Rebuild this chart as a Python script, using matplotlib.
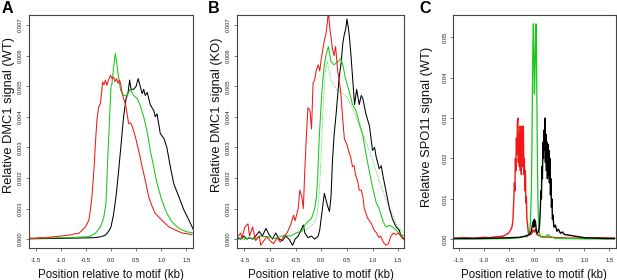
import matplotlib
matplotlib.use("Agg")
import matplotlib.pyplot as plt

plt.rcParams['font.family'] = ['Liberation Sans', 'DejaVu Sans']
plt.rcParams['axes.unicode_minus'] = False

RED = '#f01818'
GREEN = '#18c818'
BLACK = '#000000'

# ---------------- Panel A : DMC1 (WT) ----------------
a_red_x = [-1.62, -1.5, -1.4, -1.3, -1.2, -1.1, -1.0, -0.9, -0.8, -0.7, -0.64, -0.58, -0.51, -0.44, -0.41,
           -0.38, -0.34, -0.31, -0.28, -0.245, -0.21, -0.19, -0.165, -0.14, -0.11, -0.08, -0.05, -0.01, 0.02,
           0.05, 0.08, 0.11, 0.14, 0.17, 0.19, 0.22, 0.25, 0.29, 0.32, 0.35, 0.39, 0.42, 0.485, 0.55, 0.62,
           0.68, 0.75, 0.82, 0.88, 1.01, 1.15, 1.28, 1.41, 1.61]
a_red_y = [0.00002, 0.00003, 0.00005, 0.00004, 0.00007, 0.00008, 0.0001, 0.00012, 0.00014, 0.00018, 0.00019,
           0.00028, 0.0004, 0.00062, 0.00095, 0.00138, 0.00225, 0.00313, 0.00389, 0.00432, 0.00443, 0.00476,
           0.00514, 0.00505, 0.0052, 0.00503, 0.0052, 0.00536, 0.00525, 0.0053, 0.00515, 0.00525, 0.0051,
           0.0052, 0.0051, 0.00476, 0.0046, 0.0044, 0.0041, 0.00378, 0.0038, 0.0037, 0.00334, 0.0029, 0.00236,
           0.00193, 0.00138, 0.00106, 0.00084, 0.00062, 0.0004, 0.0003, 0.0002, 0.00015]

a_green_x = [-1.62, -1.2, -0.8, -0.6, -0.44, -0.31, -0.21, -0.145, -0.1, -0.066, -0.03, 0.0, 0.02, 0.05, 0.087,
             0.11, 0.14, 0.19, 0.25, 0.32, 0.385, 0.45, 0.52, 0.58, 0.65, 0.72, 0.78, 0.85, 0.915, 1.01, 1.11,
             1.21, 1.35, 1.48, 1.64]
a_green_y = [0.00003, 0.00004, 0.00005, 0.00007, 0.00008, 0.00019, 0.0004, 0.0007, 0.00117, 0.00258, 0.0039,
             0.005, 0.00509, 0.0056, 0.00607, 0.0058, 0.00542, 0.00487, 0.0047, 0.0047, 0.0049, 0.0047, 0.0046,
             0.00438, 0.004, 0.0035, 0.0029, 0.00236, 0.00182, 0.00127, 0.00084, 0.00057, 0.00035, 0.00025,
             0.0002]

a_black_x = [-1.62, -1.2, -0.8, -0.5, -0.31, -0.2, -0.11, -0.05, 0.0, 0.05, 0.1, 0.15, 0.2, 0.25, 0.3, 0.34,
             0.37, 0.4, 0.45, 0.5, 0.54, 0.58, 0.62, 0.65, 0.68, 0.72, 0.75, 0.78, 0.85, 0.88, 0.915, 0.98, 1.05,
             1.11, 1.18, 1.25, 1.35, 1.45, 1.55, 1.64]
a_black_y = [0.00001, 0.00002, 0.00003, 0.00004, 0.00005, 0.00008, 0.00013, 0.00025, 0.0004, 0.0008, 0.0014,
             0.0022, 0.0031, 0.004, 0.0046, 0.0048, 0.0052, 0.0049, 0.0049, 0.005, 0.00525, 0.005, 0.00476,
             0.0049, 0.0047, 0.0048, 0.0046, 0.0044, 0.0042, 0.004, 0.0041, 0.00345, 0.0033, 0.003, 0.00236,
             0.0018, 0.00138, 0.00095, 0.00062, 0.0003]

# ---------------- Panel B : DMC1 (KO) ----------------
b_red_x = [-1.62, -1.57, -1.55, -1.49, -1.43, -1.40, -1.34, -1.28, -1.21, -1.18, -1.12, -1.06, -1.0, -0.93,
           -0.86, -0.80, -0.73, -0.67, -0.60, -0.54, -0.51, -0.45, -0.42, -0.38, -0.35, -0.32, -0.29, -0.26,
           -0.22, -0.19, -0.16, -0.13, -0.10, -0.06, -0.03, 0.0, 0.03, 0.06, 0.09, 0.12, 0.14, 0.16, 0.19,
           0.22, 0.25, 0.28, 0.32, 0.35, 0.38, 0.42, 0.45, 0.47, 0.50, 0.53, 0.57, 0.61, 0.64, 0.67, 0.71,
           0.74, 0.78, 0.81, 0.84, 0.87, 0.90, 0.94, 0.98, 1.03, 1.08, 1.12, 1.16, 1.21, 1.26, 1.31, 1.36,
           1.41, 1.46, 1.50, 1.55, 1.60, 1.62]
b_red_y = [0.0001, 0.0002, 0.00002, 0.0004, 0.0005, 0.0001, 0.0004, -0.00005, 0.0001, -0.0002, -0.00005,
           0.00008, -0.00005, -0.00015, 0.00005, -0.0001, 0.0001, 0.00019, 0.00046, 0.00078, 0.0006, 0.001,
           0.0016, 0.0014, 0.001, 0.0023, 0.0034, 0.0043, 0.0042, 0.0036, 0.0051, 0.0052, 0.0055, 0.0057,
           0.0055, 0.0059, 0.0062, 0.0065, 0.0067, 0.0071, 0.0075, 0.0070, 0.0066, 0.0062, 0.006, 0.0063,
           0.0055, 0.0052, 0.0048, 0.0039, 0.0033, 0.0032, 0.0031, 0.0029, 0.0027, 0.00237, 0.0024, 0.0021,
           0.0019, 0.0016, 0.0016, 0.0014, 0.001, 0.00085, 0.0007, 0.0006, 0.0005, 0.0003, 0.0002, 0.00005,
           0.0001, -0.0001, -0.0002, -0.00015, 0.0001, 0.0002, 0.00015, 0.0002, 0.0001, 0.0, -0.00003]

b_black_x = [-1.62, -1.57, -1.51, -1.45, -1.40, -1.34, -1.28, -1.21, -1.15, -1.08, -1.02, -0.95, -0.89, -0.82,
             -0.76, -0.69, -0.63, -0.56, -0.51, -0.45, -0.38, -0.35, -0.32, -0.26, -0.19, -0.13, -0.06, -0.03,
             0.0, 0.03, 0.06, 0.09, 0.12, 0.16, 0.19, 0.22, 0.25, 0.29, 0.32, 0.35, 0.39, 0.42, 0.45, 0.48,
             0.50, 0.53, 0.55, 0.58, 0.61, 0.65, 0.69, 0.74, 0.78, 0.81, 0.87, 0.94, 1.0, 1.04, 1.07, 1.13,
             1.17, 1.2, 1.26, 1.33, 1.39, 1.46, 1.52, 1.56, 1.62]
b_black_y = [0.00002, 0.0, 0.0001, 0.0, 0.00005, 0.0, 0.0001, 0.00025, 0.0001, 0.00035, 0.00015, 0.0, 0.0002,
             0.0, -0.00005, 0.0001, 0.0, -0.0002, 0.0, 0.0001, 0.00035, 0.00046, 0.0002, 0.00005, 0.0001, 0.0,
             0.0001, 0.0003, 0.0007, 0.0011, 0.0015, 0.0013, 0.0011, 0.0009, 0.0014, 0.0026, 0.0034, 0.0041,
             0.0047, 0.0053, 0.0058, 0.0064, 0.0067, 0.0069, 0.0072, 0.0069, 0.0066, 0.006, 0.0053, 0.0044,
             0.0049, 0.0044, 0.0047, 0.0046, 0.0041, 0.0037, 0.0029, 0.003, 0.0027, 0.0023, 0.0024, 0.0021,
             0.0016, 0.001, 0.00065, 0.0004, 0.0003, 0.0001, 0.0]

b_green_x = [-1.62, -1.5, -1.4, -1.3, -1.2, -1.06, -0.9, -0.73, -0.6, -0.47, -0.38, -0.32, -0.26, -0.19, -0.13,
             -0.10, -0.07, -0.04, 0.0, 0.03, 0.06, 0.09, 0.14, 0.19, 0.25, 0.32, 0.38, 0.42, 0.48, 0.55, 0.61,
             0.68, 0.74, 0.81, 0.87, 0.94, 1.0, 1.07, 1.13, 1.2, 1.26, 1.33, 1.39, 1.46, 1.52, 1.62]
b_green_y = [0.00005, 0.0, 0.00005, 0.0, 0.0001, 0.00008, 0.00002, 0.00012, 0.0001, 0.00022, 0.00025, 0.00046,
             0.00057, 0.00068, 0.001, 0.0013, 0.002, 0.0033, 0.0045, 0.0052, 0.0057, 0.006, 0.0063, 0.0058,
             0.0057, 0.0058, 0.0059, 0.0057, 0.0052, 0.0048, 0.0044, 0.0042, 0.0038, 0.0034, 0.0028, 0.0022,
             0.0017, 0.0012, 0.001, 0.0006, 0.0004, 0.00045, 0.0004, 0.0003, 0.0002, 0.0001]

b_green2_x = [-0.3, -0.15, -0.08, -0.04, 0.0, 0.03, 0.08, 0.12, 0.19, 0.29, 0.38, 0.48, 0.61, 0.74, 0.87, 1.0,
              1.13, 1.26, 1.39, 1.49, 1.62]
b_green2_y = [0.0003, 0.0005, 0.0008, 0.0015, 0.0028, 0.0041, 0.0055, 0.0058, 0.0052, 0.0049, 0.0048, 0.0047,
              0.0043, 0.0037, 0.0032, 0.0026, 0.0019, 0.0013, 0.0008, 0.0004, 0.0002]

# ---------------- Panel C : SPO11 (WT) ----------------
c_red_x = [-1.6, -1.4, -1.2, -1.0, -0.9, -0.8, -0.7, -0.62, -0.56, -0.52, -0.48, -0.45, -0.43, -0.42, -0.41,
           -0.40, -0.39, -0.38, -0.37, -0.36, -0.35, -0.34, -0.33, -0.32, -0.31, -0.30, -0.29, -0.28, -0.27,
           -0.26, -0.25, -0.24, -0.23, -0.22, -0.21, -0.20, -0.19, -0.18, -0.17, -0.16, -0.15, -0.14, -0.12,
           -0.10, -0.08, -0.05, -0.02, 0.0, 0.02, 0.05, 0.08, 0.13, 0.2, 0.33, 0.5, 0.7, 1.0, 1.3, 1.6]
c_red_y = [0.0003, 0.0004, 0.0003, 0.0005, 0.0004, 0.0006, 0.0007, 0.0008, 0.0012, 0.0015, 0.0022, 0.003,
           0.0045, 0.0072, 0.010, 0.014, 0.012, 0.020, 0.017, 0.025, 0.021, 0.029, 0.030, 0.019, 0.026, 0.018,
           0.028, 0.017, 0.024, 0.016, 0.028, 0.018, 0.027, 0.028, 0.016, 0.020, 0.012, 0.017, 0.009, 0.0105,
           0.005, 0.004, 0.0015, 0.0012, 0.0011, 0.0015, 0.0023, 0.0018, 0.0025, 0.0012, 0.001, 0.0007,
           0.0006, 0.0005, 0.0004, 0.0003, 0.0003, 0.0004, 0.0003]

c_green_x = [-1.6, -1.0, -0.5, -0.3, -0.2, -0.15, -0.12, -0.10, -0.08, -0.06, -0.05, -0.04, -0.03, -0.02, -0.01,
             0.0, 0.01, 0.02, 0.03, 0.04, 0.05, 0.06, 0.07, 0.08, 0.10, 0.13, 0.2, 0.27, 0.3, 0.4, 0.6, 1.0, 1.6]
c_green_y = [0.0001, 0.0001, 0.0002, 0.0004, 0.0008, 0.0006, 0.001, 0.0015, 0.004, 0.012, 0.022, 0.036, 0.048,
             0.0533, 0.046, 0.036, 0.040, 0.048, 0.0533, 0.047, 0.034, 0.020, 0.010, 0.005, 0.0015, 0.0006,
             0.0004, 0.0012, 0.0008, 0.0003, 0.0002, 0.0001, 0.0001]

c_black_x = [-1.6, -1.2, -0.8, -0.5, -0.3, -0.2, -0.1, -0.06, -0.04, -0.02, -0.01, 0.0, 0.01, 0.02, 0.04, 0.06,
             0.08, 0.10, 0.11, 0.12, 0.13, 0.14, 0.15, 0.16, 0.17, 0.18, 0.19, 0.20, 0.21, 0.22, 0.23, 0.24,
             0.25, 0.26, 0.27, 0.28, 0.29, 0.30, 0.31, 0.32, 0.33, 0.34, 0.35, 0.36, 0.37, 0.39, 0.42, 0.45,
             0.48, 0.52, 0.56, 0.6, 0.7, 0.8, 0.9, 1.0, 1.2, 1.4, 1.6]
c_black_y = [0.0002, 0.0002, 0.0003, 0.0004, 0.0005, 0.0007, 0.0012, 0.002, 0.0035, 0.0045, 0.003, 0.005,
             0.0035, 0.0045, 0.002, 0.0015, 0.002, 0.003, 0.005, 0.008, 0.012, 0.010, 0.018, 0.015, 0.024,
             0.020, 0.027, 0.022, 0.030, 0.019, 0.026, 0.017, 0.024, 0.015, 0.0235, 0.016, 0.022, 0.014, 0.020,
             0.011, 0.015, 0.008, 0.010, 0.005, 0.006, 0.003, 0.0035, 0.002, 0.0025, 0.0015, 0.0018, 0.0012,
             0.001, 0.0008, 0.0006, 0.0004, 0.0003, 0.0002, 0.0002]

x_ticks = [-1.5, -1.0, -0.5, 0.0, 0.5, 1.0, 1.5]
x_tick_labels = ['-1.5', '-1.0', '-0.5', '0.0', '0.5', '1.0', '1.5']
dmc_ticks = [0.000, 0.001, 0.002, 0.003, 0.004, 0.005, 0.006, 0.007]
dmc_tick_labels = ['0.000', '0.001', '0.002', '0.003', '0.004', '0.005', '0.006', '0.007']
spo_ticks = [0.00, 0.01, 0.02, 0.03, 0.04, 0.05]
spo_tick_labels = ['0.00', '0.01', '0.02', '0.03', '0.04', '0.05']

xlabel = 'Position relative to motif (kb)'
ylabels = ['Relative DMC1 signal (WT)', 'Relative DMC1 signal (KO)', 'Relative SPO11 signal (WT)']
letters = ['A', 'B', 'C']

W, H = 617, 280
fig = plt.figure(figsize=(W / 100, H / 100), dpi=100)

def px_axes(l, r, t, b):
    return fig.add_axes([l / W, 1 - b / H, (r - l) / W, (b - t) / H])

axA = px_axes(28.5, 192.5, 15, 248.3)
axB = px_axes(236.7, 404.3, 15, 248.3)
axC = px_axes(453.3, 615.5, 15, 248.3)

LW = 0.75
axA.plot(a_black_x, a_black_y, color=BLACK, lw=LW)
axA.plot(a_green_x, a_green_y, color=GREEN, lw=LW)
axA.plot(a_red_x, a_red_y, color=RED, lw=LW)

axB.plot(b_green2_x, b_green2_y, color=GREEN, lw=0.6, ls=(0, (1, 1.5)))
axB.plot(b_black_x, b_black_y, color=BLACK, lw=LW)
axB.plot(b_green_x, b_green_y, color=GREEN, lw=LW)
axB.plot(b_red_x, b_red_y, color=RED, lw=LW)

axC.plot(c_red_x, c_red_y, color=RED, lw=1.0)
axC.plot(c_green_x, c_green_y, color=GREEN, lw=0.9)
axC.plot(c_black_x, c_black_y, color=BLACK, lw=1.0)

xlims = [(-1.64, 1.62), (-1.65, 1.62), (-1.62, 1.62)]
ylims = [(-0.0003, 0.00733), (-0.0003, 0.00733), (-0.00222, 0.0555)]
yticks = [(dmc_ticks, dmc_tick_labels), (dmc_ticks, dmc_tick_labels), (spo_ticks, spo_tick_labels)]
ylab_pos = [(-0.082, 0.571), (-0.082, 0.571), (-0.125, 0.52)]
letter_x = [2, 208, 419]

for ax, xl, yl, (yt, ytl), lab, lp, let, lx in zip([axA, axB, axC], xlims, ylims, yticks, ylabels,
                                                   ylab_pos, letters, letter_x):
    ax.set_xlim(*xl)
    ax.set_ylim(*yl)
    ax.set_xticks(x_ticks)
    ax.set_xticklabels(x_tick_labels)
    ax.set_yticks(yt)
    ax.set_yticklabels(ytl, rotation=90, va='center')
    for s in ax.spines.values():
        s.set_color('#444444')
        s.set_linewidth(0.8)
    ax.tick_params(axis='both', direction='out', length=2.2, width=0.5, color='#444444',
                   labelsize=4.2, labelcolor='#222222')
    ax.tick_params(axis='x', pad=4.6)
    ax.tick_params(axis='y', pad=1.8)
    ax.set_xlabel(xlabel, fontsize=8.3, color='#111111')
    ax.xaxis.set_label_coords(0.5, -0.087)
    ax.set_ylabel(lab, fontsize=9.3, color='#111111')
    ax.yaxis.set_label_coords(*lp)
    fig.text(lx / W, 1 - 12.7 / H, let, fontsize=11.5, fontweight='bold', ha='left', va='baseline')

fig.savefig('out.png', dpi=100)
